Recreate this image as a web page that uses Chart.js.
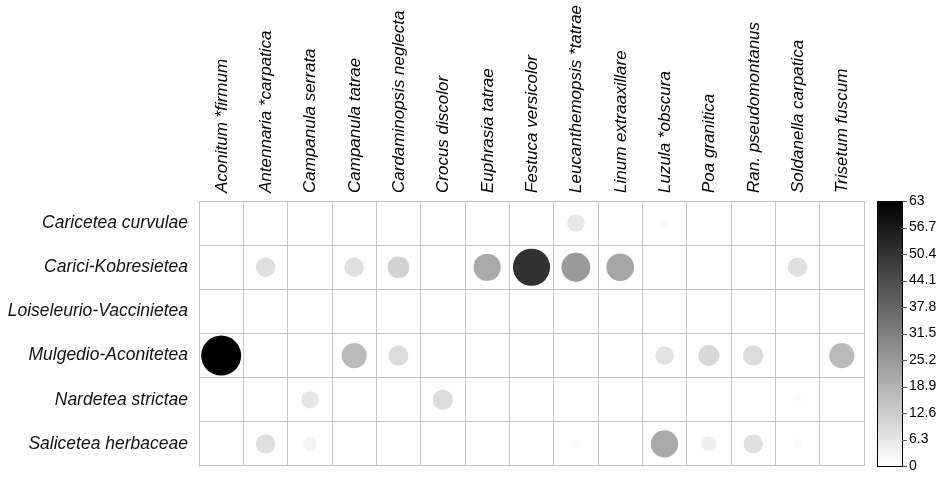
<!DOCTYPE html>
<html>
<head>
<meta charset="utf-8">
<script src="https://cdn.jsdelivr.net/npm/chart.js@4.4.0/dist/chart.umd.min.js"></script>
<style>
  html, body { margin: 0; padding: 0; background: #fff; }
  #wrap { width: 945px; height: 477px; }
</style>
</head>
<body>
<div id="wrap"><canvas id="chart"></canvas></div>
<script>
// species (columns) and vegetation classes (rows)
const species = ['Aconitum *firmum', 'Antennaria *carpatica', 'Campanula serrata', 'Campanula tatrae',
  'Cardaminopsis neglecta', 'Crocus discolor', 'Euphrasia tatrae', 'Festuca versicolor',
  'Leucanthemopsis *tatrae', 'Linum extraaxillare', 'Luzula *obscura', 'Poa granitica',
  'Ran. pseudomontanus', 'Soldanella carpatica', 'Trisetum fuscum'];
const classes = ['Caricetea curvulae', 'Carici-Kobresietea', 'Loiseleurio-Vaccinietea',
  'Mulgedio-Aconitetea', 'Nardetea strictae', 'Salicetea herbaceae'];

// values per class, same order as species
const caricetea   = [0, 0, 0, 0, 0, 0, 0, 0, 6, 0, 1, 0, 0, 0, 0];
const kobresietea = [0, 8, 0, 8, 11, 0, 21, 51, 25, 22, 0, 0, 0, 8, 0];
const loiseleurio = [0, 0, 0, 0, 0, 0, 0, 0, 0, 0, 0, 0, 0, 0, 0];
const mulgedio    = [63, 0, 0, 17, 9, 0, 0, 0, 0, 0, 7, 10, 9, 0, 17];
const nardetea    = [0, 0, 6, 0, 0, 9, 0, 0, 0, 0, 0, 0, 0, 1, 0];
const salicetea   = [0, 8, 3, 0, 0, 0, 0, 0, 1, 0, 21, 4, 8, 1, 0];
const rows = [caricetea, kobresietea, loiseleurio, mulgedio, nardetea, salicetea];

const colorbarTicks = ['0', '6.3', '12.6', '18.9', '25.2', '31.5', '37.8', '44.1', '50.4', '56.7', '63'];
const maxValue = 63;

const points = [];
rows.forEach((vals, i) => {
  vals.forEach((v, j) => {
    if (v > 0) points.push({ x: species[j], y: classes[i], v: v });
  });
});

function grey(v) {
  const g = Math.round(255 * (1 - v / maxValue));
  return 'rgb(' + g + ',' + g + ',' + g + ')';
}

function noPad(s) {
  s.paddingTop = 0; s.paddingBottom = 0; s.paddingLeft = 0; s.paddingRight = 0;
}

const colorbar = {
  id: 'colorbar',
  afterDraw(chart) {
    const ctx = chart.ctx;
    const area = chart.chartArea;
    const x0 = area.right + 13, w = 25;
    const top = area.top, bottom = area.bottom;
    const grad = ctx.createLinearGradient(0, bottom, 0, top);
    grad.addColorStop(0, '#ffffff');
    grad.addColorStop(1, '#000000');
    ctx.save();
    ctx.fillStyle = grad;
    ctx.fillRect(x0, top, w, bottom - top);
    ctx.strokeStyle = '#000';
    ctx.lineWidth = 1;
    ctx.strokeRect(x0 + 0.5, top + 0.5, w, bottom - top);
    ctx.font = '14px "Liberation Sans", Arial, sans-serif';
    ctx.fillStyle = '#000';
    ctx.textAlign = 'left';
    ctx.textBaseline = 'middle';
    colorbarTicks.forEach((t, k) => {
      const y = bottom - (bottom - top) * k / (colorbarTicks.length - 1);
      ctx.beginPath();
      ctx.strokeStyle = '#555';
      ctx.moveTo(x0 + w, Math.round(y) + 0.5);
      ctx.lineTo(x0 + w + 5, Math.round(y) + 0.5);
      ctx.stroke();
      ctx.fillText(t, x0 + w + 7, y);
    });
    ctx.restore();
  }
};

const colFont = { family: '"Liberation Sans", Arial, sans-serif', size: 17, style: 'italic' };
const rowFont = { family: '"Liberation Sans", Arial, sans-serif', size: 17.5, style: 'italic' };

new Chart(document.getElementById('chart'), {
  type: 'bubble',
  data: {
    datasets: [{
      data: points,
      backgroundColor: ctx => grey(ctx.raw.v),
      borderWidth: 0,
      radius: ctx => 20 * Math.pow(ctx.raw.v / maxValue, 0.35),
      hoverRadius: 0
    }]
  },
  options: {
    responsive: true,
    maintainAspectRatio: false,
    animation: false,
    layout: { autoPadding: false, padding: { left: 0, right: 81, top: 0, bottom: 11 } },
    plugins: { legend: { display: false }, tooltip: { enabled: false } },
    scales: {
      x: {
        type: 'category',
        labels: species,
        position: 'top',
        offset: true,
        grid: { offset: true, color: '#c4c4c4', drawTicks: false },
        border: { display: true, color: '#c4c4c4' },
        ticks: { color: '#000', font: colFont, minRotation: 90, maxRotation: 90, autoSkip: false, padding: 8, labelOffset: 21 },
        afterFit: s => { s.height = 201; noPad(s); }
      },
      y: {
        type: 'category',
        labels: classes,
        offset: true,
        grid: { offset: true, color: '#c4c4c4', drawTicks: false },
        border: { display: true, color: '#c4c4c4' },
        ticks: { color: '#111', font: rowFont, autoSkip: false, padding: 11 },
        afterFit: s => { s.width = 199; noPad(s); }
      }
    }
  },
  plugins: [colorbar]
});
</script>
</body>
</html>
